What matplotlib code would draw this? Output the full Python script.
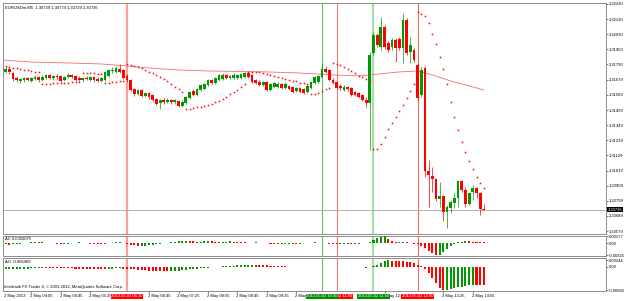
import matplotlib
matplotlib.use("Agg")
import matplotlib.pyplot as plt
import numpy as np

plt.rcParams["font.family"] = ["Liberation Sans", "DejaVu Sans"]

# EURUSDm M5, 2 May 2013, bar 0 = 03:30. prices in points (1e-5)
OPEN = [131736,131757,131728,131692,131670,131677,131692,131670,131685,131699,
        131677,131692,131714,131692,131707,131707,131677,131699,131714,131707,
        131692,131677,131692,131677,131699,131685,131670,131677,131707,131743,
        131736,131757,131750,131707,131677,131612,131576,131605,131561,131583,
        131568,131539,131510,131532,131518,131532,131518,131525,131488,131510,
        131547,131597,131568,131605,131612,131641,131677,131656,131677,131685,
        131714,131692,131692,131692,131692,131699,131728,131714,131677,131663,
        131641,131663,131605,131627,131627,131648,131619,131634,131627,131597,
        131619,131612,131590,131619,131656,131663,131699,131757,131750,131677,
        131663,131634,131605,131627,131619,131590,131583,131568,131532,131510,
        131874,132005,131917,132063,131947,131917,131968,131976,131910,132114,
        131881,131896,131787,131568,131765,131016,130980,130958,130812,130834,
        130718,130747,130783,130820,130943,130878,130776,130863,130892,130856,
        130739]
HIGH = [131779,131772,131736,131707,131692,131699,131699,131699,131714,131707,
        131714,131721,131721,131714,131721,131714,131707,131728,131721,131714,
        131707,131699,131707,131707,131707,131699,131699,131743,131757,131772,
        131779,131794,131757,131721,131685,131619,131612,131612,131590,131590,
        131576,131547,131539,131547,131547,131539,131539,131532,131532,131561,
        131597,131612,131619,131648,131656,131685,131685,131699,131721,131728,
        131721,131714,131728,131721,131728,131736,131736,131721,131685,131677,
        131670,131670,131656,131663,131663,131656,131663,131641,131634,131627,
        131627,131619,131641,131670,131707,131714,131801,131779,131757,131692,
        131670,131648,131641,131634,131627,131597,131590,131576,131554,131881,
        132026,132019,132135,132077,131961,131983,131983,131990,132165,132128,
        131990,131910,131801,131772,131779,131096,131045,130965,130936,130841,
        130769,130805,130856,130950,130950,130900,130863,130914,130900,130863,
        130774]
LOW = [131728,131721,131670,131663,131656,131663,131670,131663,131677,131663,
       131670,131685,131685,131677,131685,131663,131670,131692,131692,131670,
       131670,131663,131677,131670,131663,131663,131663,131670,131699,131728,
       131728,131728,131685,131663,131597,131561,131568,131554,131554,131539,
       131525,131496,131467,131503,131510,131503,131503,131481,131481,131503,
       131539,131561,131561,131597,131605,131634,131648,131648,131670,131677,
       131685,131685,131685,131685,131685,131692,131692,131656,131648,131634,
       131634,131597,131597,131619,131619,131612,131612,131605,131583,131590,
       131583,131576,131583,131612,131648,131656,131692,131728,131670,131648,
       131612,131605,131597,131597,131561,131561,131547,131525,131481,131169,
       131859,131917,131896,131903,131881,131896,131808,131896,131801,131859,
       131801,131808,131532,131554,130972,130754,130863,130798,130754,130652,
       130602,130711,130747,130754,130863,130754,130769,130805,130820,130696,
       130729]
CLOSE = [131757,131736,131685,131677,131685,131692,131677,131692,131699,131677,
         131699,131714,131692,131707,131699,131670,131699,131714,131699,131677,
         131677,131692,131685,131699,131677,131670,131692,131736,131750,131750,
         131765,131736,131692,131677,131605,131576,131605,131561,131583,131554,
         131532,131503,131532,131518,131532,131518,131532,131488,131518,131554,
         131590,131568,131612,131641,131648,131677,131656,131692,131714,131714,
         131692,131707,131714,131714,131721,131728,131699,131663,131656,131641,
         131663,131605,131648,131656,131648,131619,131648,131612,131590,131619,
         131590,131583,131634,131663,131699,131707,131757,131736,131677,131656,
         131619,131619,131627,131612,131568,131568,131554,131532,131510,131859,
         132005,131932,132063,131917,131896,131968,131910,131910,132114,131874,
         131932,131823,131547,131750,131016,130987,130958,130812,130834,130718,
         130754,130790,130820,130943,130878,130776,130856,130892,130856,130740,
         130736]
SAR = [131779,131772,131765,131765,131757,131750,131750,131743,131736,131736,
       131648,131648,131648,131656,131656,131656,131656,131656,131663,131663,
       131663,131728,131728,131728,131728,131721,131721,131656,131656,131663,
       131663,131670,131670,131794,131787,131779,131772,131761,131750,131739,
       131728,131714,131699,131685,131667,131648,131630,131612,131590,131467,
       131470,131474,131478,131481,131488,131496,131503,131514,131525,131539,
       131554,131572,131590,131608,131627,131645,131736,131736,131736,131732,
       131728,131721,131714,131707,131699,131692,131685,131677,131670,131667,
       131659,131652,131648,131576,131579,131584,131597,131609,131621,131801,
       131794,131787,131772,131757,131743,131728,131710,131699,131685,131670,
       131176,131176,131212,131263,131321,131365,131408,131452,131496,131547,
       131597,131648,132172,132157,132143,132092,132012,131939,131845,131757,
       131648,131518,131408,131314,131227,131154,131089,131030,130972,130929,
       130892]
MA_BAR = [-1, 7, 17, 26, 33, 39, 47, 55, 71, 80, 89, 96, 99, 104, 107, 112, 116, 121, 125, 130]
MA_VAL = [131823, 131808, 131801, 131794, 131779, 131765, 131750, 131743, 131736, 131728,
          131714, 131707, 131714, 131728, 131736, 131743, 131714, 131670, 131641, 131605]

AC = [-30,-36,-24,-15,-9,6,15,24,30,36,
      24,15,9,-6,-15,-24,-18,-12,6,15,18,
      12,6,-9,-18,-24,-30,-18,-6,9,18,24,15,
      -15,-45,-60,-75,-70,-62,-50,-40,-30,-18,-6,9,
      24,36,45,54,60,54,45,36,42,48,54,45,
      36,30,36,42,45,39,30,24,18,12,15,21,15,6,
      -6,-15,-24,-30,-24,-18,-12,-15,-18,-12,-6,6,12,18,15,9,
      -6,-15,-24,-30,-27,-21,-15,-18,-12,-9,-6,6,
      40,90,130,155,177,120,60,20,30,40,20,10,-10,-30,-80,
      -130,-200,-270,-325,-310,-240,-160,-80,-20,20,40,50,45,40,30,25,20]
AO = [-80,-76,-72,-68,-64,-60,-56,-52,-49,-46,
      -47,-48,-49,-50,-51,-52,-53,-54,-55,-56,-56,-57,-57,-58,-58,-59,-59,-60,-58,-56,-55,-54,-56,
      -62,-72,-84,-96,-108,-118,-128,-136,-142,-146,-148,-150,
      -146,-138,-128,-116,-102,-88,-74,-60,-46,-33,-20,-8,
      5,15,25,34,42,50,56,61,65,68,70,68,64,58,
      52,45,38,31,25,19,14,10,6,3,1,-1,
      2,5,8,10,12,
      9,6,3,0,-3,-6,-9,-12,-15,-18,-20,-5,
      30,70,140,200,244,230,220,210,200,190,170,130,80,20,-80,
      -220,-400,-580,-740,-842,-820,-790,-760,-730,-700,-670,-650,-630,-635,-640,-641]

PRICE_TICKS = [1.32230, 1.32120, 1.32010, 1.31900, 1.31790, 1.31679, 1.31569, 1.31459,
               1.31349, 1.31239, 1.31129, 1.31019, 1.30909, 1.30799, 1.30689, 1.30579]
TIME_BARS = [7, 15, 23, 39, 47, 55, 63, 71, 79, 103, 119, 127]
TIME_LABELS = ["2 May 04:05", "2 May 04:45", "2 May 05:25", "2 May 06:45",
               "2 May 07:25", "2 May 08:05", "2 May 08:45", "2 May 09:25", "2 May 10:05",
               "2 May 12:05", "2 May 13:25", "2 May 14:05"]
# vertical lines: bar, colour, width, box label
VLINES = [(33, "#ff9d9d", 1.6, "2013.05.02 06:15"),
          (90, "#f07c7c", 0.8, "2013.05.02 11:00"),
          (86, "#6cbf6c", 0.8, "2013.05.02 10:40"),
          (100, "#a8dca8", 1.6, "2013.05.02 11:50"),
          (112, "#f06a6a", 0.8, "2013.05.02 12:50")]

PT = 1e-5
o, h, l, c = (np.array(a) * PT for a in (OPEN, HIGH, LOW, CLOSE))
k = np.arange(len(o))
GREEN, RED = "#009a00", "#ff0000"
FS = 3.0

fig = plt.figure(figsize=(6.25, 3.01), dpi=100)

def panel(y0, y1):
    return fig.add_axes([3 / 625, 1 - y1 / 301, 603 / 625, (y1 - y0) / 301])

ax = panel(3, 234)
ac = panel(236, 256)
ao = panel(258, 291)

for a in (ax, ac, ao):
    a.set_xlim(-0.71, 163.2)
    for s in a.spines.values():
        s.set_color("#8c8c8c")
        s.set_linewidth(0.7)
    a.yaxis.tick_right()
    a.tick_params(axis="y", length=1.5, width=0.4, pad=0.8, labelsize=FS, colors="black")
    a.tick_params(axis="x", length=0, labelbottom=False)
    for bar, col, lw, _ in VLINES:
        a.axvline(bar, color=col, lw=lw, zorder=1)

# main chart
cols = np.where(c >= o, GREEN, RED)
ax.vlines(k, l, h, colors=cols, lw=0.5, zorder=3)
body = np.where(np.abs(c - o) < 2e-6, 2e-6, c - o)
ax.bar(k, body, bottom=o, width=0.75, color=cols, lw=0, zorder=4)
ax.plot(np.array(MA_BAR), np.array(MA_VAL) * PT, color="#ff6a6a", lw=0.6, zorder=2)
ax.plot(k, np.array(SAR) * PT, ls="none", marker="s", ms=1.1, mew=0, color=RED, zorder=5)
ax.axhline(CLOSE[-1] * PT, color="#a6a6a6", lw=0.6, zorder=1)
ax.set_ylim(1.30558, 1.32237)
ax.set_yticks(PRICE_TICKS)
ax.set_yticklabels(["%.5f" % v for v in PRICE_TICKS])
ax.text(1.003, CLOSE[-1] * PT, "%.5f" % (CLOSE[-1] * PT), transform=ax.get_yaxis_transform(),
        fontsize=FS, color="white", va="center", ha="left",
        bbox=dict(boxstyle="square,pad=0.12", fc="black", ec="none"))
ax.text(0.004, 0.988, "EURUSDm,M5  1.30739 1.30774 1.30729 1.30736", transform=ax.transAxes,
        fontsize=FS, va="top", ha="left")

# oscillators, coloured by direction
def hist(a, vals, lim, ticks, title):
    v = np.array(vals) * PT
    rising = np.concatenate([[True], v[1:] > v[:-1]])
    a.bar(k, v, width=0.55, color=np.where(rising, GREEN, RED), lw=0, zorder=3)
    a.set_ylim(*lim)
    a.set_yticks(ticks)
    a.set_yticklabels(["%.5f" % t if t else "0.00" for t in ticks])
    a.text(0.004, 0.93, title, transform=a.transAxes, fontsize=FS, va="top", ha="left")

hist(ac, AC, (-0.0034, 0.0019), [0.00177, 0.0, -0.00325], "AC 0.0002075")
hist(ao, AO, (-0.0086, 0.0032), [0.00244, 0.0, -0.00842], "AO -0.006409")
ao.text(0.002, 0.13, "Interbank FX Trader 4, \u00a9 2001-2012, MetaQuotes Software Corp.",
        transform=ao.transAxes, fontsize=FS, va="center", ha="left")

# time axis
ao.set_xticks(TIME_BARS)
ao.tick_params(axis="x", length=1.5, width=0.4, direction="out", colors="black")
tr = ao.get_xaxis_transform()
ao.text(-0.5, -0.16, "2 May 2013", transform=tr, fontsize=FS, va="center", ha="left")
for bar, lbl in zip(TIME_BARS, TIME_LABELS):
    ao.text(bar - 0.3, -0.16, lbl, transform=tr, fontsize=FS, va="center", ha="left")
for bar, col, _, lbl in VLINES:
    fc = RED if col.startswith("#f") else "#008c00"
    ao.text(bar, -0.16, lbl, transform=tr, fontsize=FS, va="center", ha="center", color="white",
            bbox=dict(boxstyle="square,pad=0.15", fc=fc, ec="none"), zorder=10)

fig.savefig("out.png", dpi=100)
